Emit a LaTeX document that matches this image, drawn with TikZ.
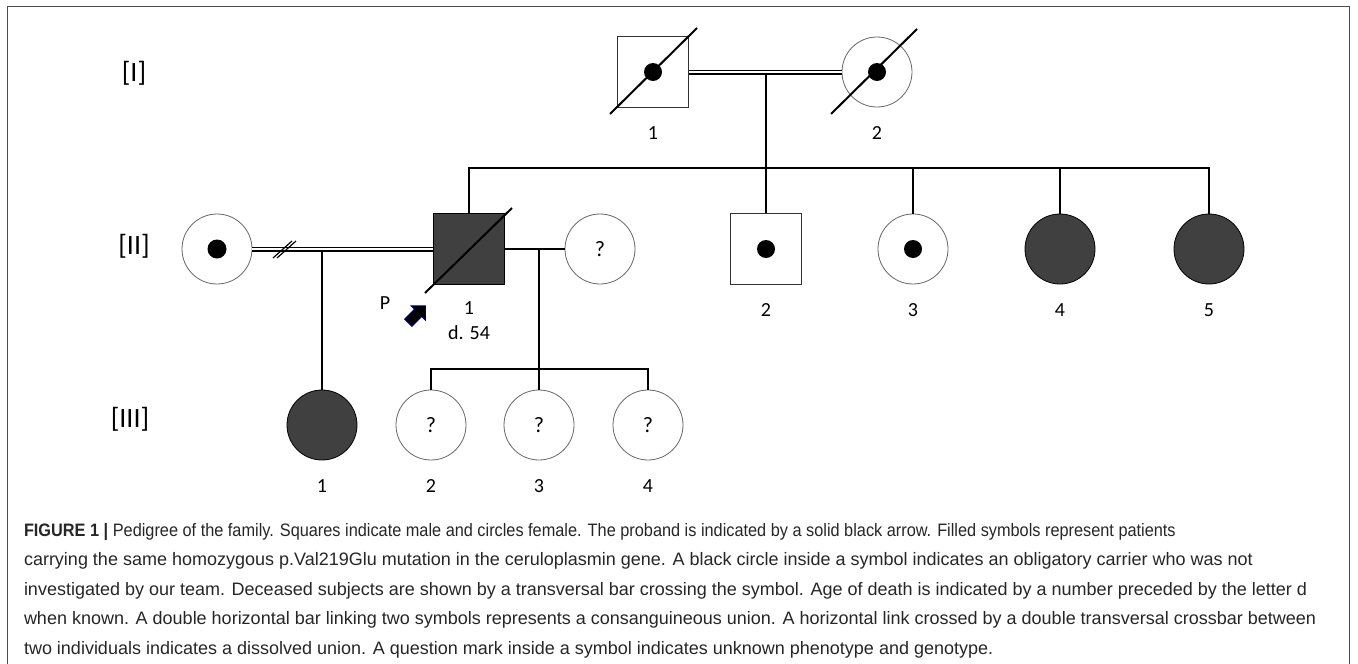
\documentclass[tikz,border=0pt]{standalone}
\usepackage{fontspec}
\usepackage{graphicx}
\setmainfont{Carlito}
\newfontfamily\capfont{Liberation Sans}
\usetikzlibrary{positioning}
\usetikzlibrary{calc}
\usetikzlibrary{shapes.arrows}

\begin{document}
\begin{tikzpicture}[x=1pt,y=-1pt,line width=2pt,node distance=61pt]
		\tikzstyle{male}=[rectangle,draw=black!80,line width=0.8pt,minimum size=71pt,inner sep=0pt,fill=white]
		\tikzstyle{female}=[circle,draw=black!60,line width=0.8pt,minimum size=70pt,inner sep=0pt,fill=white,font=\fontsize{22}{24}\selectfont]
		\tikzstyle{affected}=[fill=black!75,draw=black]
		\tikzstyle{idlabel}=[font=\fontsize{20}{22}\selectfont]
		\tikzstyle{gen}=[font=\fontsize{28}{30}\selectfont]
		\tikzstyle{marriage}=[double,double distance=2.2pt,line width=1.4pt]
		\tikzstyle{deceased}=[line width=2pt]
		
		\useasboundingbox (0,0) rectangle (1358,664);
		\draw[black!70,line width=1pt] (7.5,664) -- (7.5,6) -- (1349.5,6) -- (1349.5,664);
		
		% generations
		\node[gen] (G_I)   at (134,73)  {[I]};
		\node[gen] (G_II)  at (134,246) {[II]};
		\node[gen] (G_III) at (130,419) {[III]};
		
		% generation I
		\node[male]   (I_1) at (653,72) {};
		\node[female] (I_2) at (877,72) {};
		\fill (I_1.center) circle (9pt);
		\fill (I_2.center) circle (9pt);
		\draw[deceased] ($(I_1.center)+(-43,42)$) -- ($(I_1.center)+(44,-44)$);
		\draw[deceased] ($(I_2.center)+(-46,42)$) -- ($(I_2.center)+(40,-43)$);
		\node[idlabel] (I_1l) [below of=I_1] {1};
		\node[idlabel] (I_2l) [below of=I_2] {2};
		\path (I_1) edge[marriage] (I_2);
		\coordinate (c_I) at (766,74);
		\coordinate (sib_II) at (766,168);
		
		% generation II
		\node[female]          (II_1) at (217,249)  {};
		\node[male,affected]   (II_p) at (469,249)  {};
		\node[female]          (II_q) at (600,249)  {?};
		\node[male]            (II_2) at (766,249)  {};
		\node[female]          (II_3) at (913,249)  {};
		\node[female,affected] (II_4) at (1060,249) {};
		\node[female,affected] (II_5) at (1209,249) {};
		\fill (II_1.center) circle (9.5pt);
		\fill (II_2.center) circle (9pt);
		\fill (II_3.center) circle (9pt);
		\draw[deceased] ($(II_p.center)+(-44,44)$) -- ($(II_p.center)+(43,-41)$);
		
		\draw (II_p.north) -- (II_p.north |- sib_II) -- (II_5.north |- sib_II) -- (II_5.north);
		\draw (c_I) -- (II_2.north);
		\draw (II_3.north) -- (II_3.north |- sib_II);
		\draw (II_4.north) -- (II_4.north |- sib_II);
		
		\node[idlabel] (II_pl) [below of=II_p,node distance=59pt] {1};
		\node[idlabel] (II_pd) [below of=II_pl,node distance=25pt] {d. 54};
		\node[idlabel] (II_2l) [below of=II_2] {2};
		\node[idlabel] (II_3l) [below of=II_3] {3};
		\node[idlabel] (II_4l) [below of=II_4] {4};
		\node[idlabel] (II_5l) [below of=II_5] {5};
		
		% proband
		\node[idlabel] (P) at (385,303) {P};
		\node[single arrow,fill=black,draw=blue!40!black,line width=1pt,rotate=45,
		minimum height=24pt,inner sep=4.5pt,single arrow head extend=5pt] (arw) at (415,316) {};
		
		% unions
		\path (II_1) edge[marriage] (II_p);
		\draw[line width=1.2pt] (273,258) -- (292,241);
		\draw[line width=1.2pt] (277,258) -- (296,241);
		\path (II_p) edge (II_q);
		\coordinate (u_II1) at (322,251);
		\coordinate (u_IIp) at (539,249);
		\coordinate (sib_III) at (539,369);
		
		% generation III
		\node[female,affected] (III_1) at (322,425) {};
		\node[female]          (III_2) at (431,425) {?};
		\node[female]          (III_3) at (539,425) {?};
		\node[female]          (III_4) at (648,425) {?};
		\draw (u_II1) -- (III_1.north);
		\draw (u_IIp) -- (III_3.north);
		\draw (III_2.north) -- (III_2.north |- sib_III) -- (III_4.north |- sib_III) -- (III_4.north);
		\node[idlabel] (III_1l) [below of=III_1,node distance=61pt] {1};
		\node[idlabel] (III_2l) [below of=III_2,node distance=61pt] {2};
		\node[idlabel] (III_3l) [below of=III_3,node distance=61pt] {3};
		\node[idlabel] (III_4l) [below of=III_4,node distance=61pt] {4};
		
		% caption
		\node[anchor=north west,inner sep=0pt,align=left,text=black!85,
		font=\capfont\fontsize{18}{29.5}\selectfont] (cap) at (23,522) {%
			\scalebox{0.906}[1]{\textbf{FIGURE 1 |} Pedigree of the family. Squares indicate male and circles female. The proband is indicated by a solid black arrow. Filled symbols represent patients}\\
			carrying the same homozygous p.Val219Glu mutation in the ceruloplasmin gene. A black circle inside a symbol indicates an obligatory carrier who was not\\
			investigated by our team. Deceased subjects are shown by a transversal bar crossing the symbol. Age of death is indicated by a number preceded by the letter d\\
			when known. A double horizontal bar linking two symbols represents a consanguineous union. A horizontal link crossed by a double transversal crossbar between\\
			two individuals indicates a dissolved union. A question mark inside a symbol indicates unknown phenotype and genotype.};
		\end{tikzpicture}
\end{document}
